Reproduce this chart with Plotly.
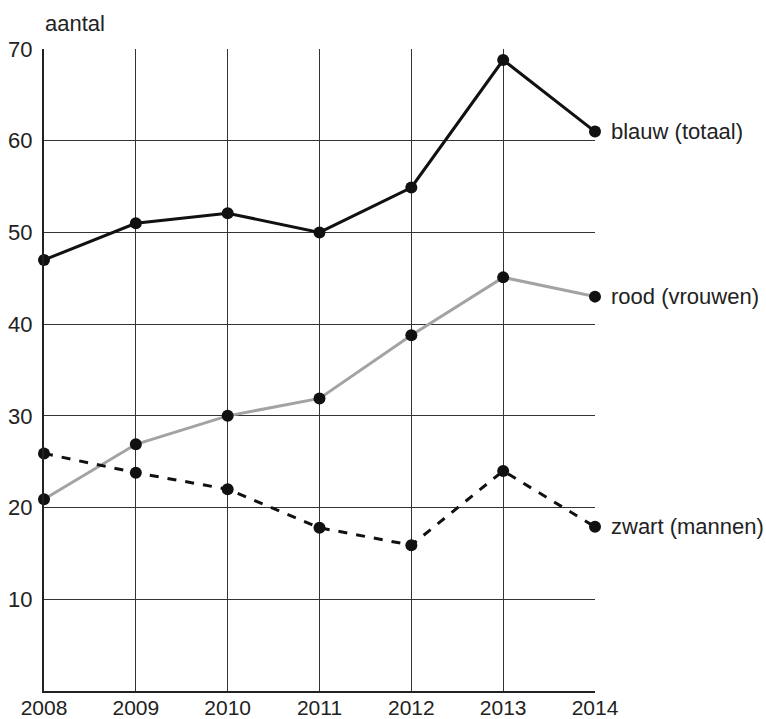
import plotly.graph_objects as go

years = [2008, 2009, 2010, 2011, 2012, 2013, 2014]
blauw_totaal = [47, 51, 52.1, 50, 54.9, 68.8, 61]
rood_vrouwen = [20.9, 26.9, 30, 31.9, 38.8, 45.1, 43]
zwart_mannen = [25.9, 23.8, 22, 17.8, 15.9, 24, 17.9]
labels = ["blauw (totaal)", "rood (vrouwen)", "zwart (mannen)"]
y_ticks = [10, 20, 30, 40, 50, 60, 70]

FONT = "Liberation Sans, Arial, Helvetica, sans-serif"
TXT = "#222222"

fig = go.Figure()

series = [
    (blauw_totaal, dict(color="#111111", width=3, dash="solid")),
    (rood_vrouwen, dict(color="#a3a3a3", width=3, dash="solid")),
    (zwart_mannen, dict(color="#111111", width=3, dash="dash")),
]

for vals, line in series:
    fig.add_trace(go.Scatter(
        x=years, y=vals, mode="lines+markers",
        line=line,
        marker=dict(size=12, color="#111111"),
        cliponaxis=False, showlegend=False, hoverinfo="skip",
    ))

for vals, lab in zip([blauw_totaal, rood_vrouwen, zwart_mannen], labels):
    fig.add_annotation(
        x=years[-1], y=vals[-1], xref="x", yref="y",
        text=lab, showarrow=False, xanchor="left", yanchor="middle",
        xshift=14, font=dict(family=FONT, size=22, color=TXT),
    )

fig.add_annotation(
    x=0, y=1, xref="paper", yref="paper", text="aantal",
    showarrow=False, xanchor="left", yanchor="bottom",
    xshift=-1, yshift=11, font=dict(family=FONT, size=22, color=TXT),
)

fig.update_xaxes(
    range=[2008, 2014], tickmode="array", tickvals=years,
    ticktext=[str(y) for y in years],
    showgrid=True, gridcolor="#333333", gridwidth=1,
    showline=True, linecolor="#222222", linewidth=2,
    zeroline=False, ticks="", ticklabelstandoff=-3, automargin=False,
    tickfont=dict(family=FONT, size=21, color=TXT),
)
fig.update_yaxes(
    range=[0, 70], tickmode="array", tickvals=y_ticks,
    ticktext=[str(v) for v in y_ticks],
    showgrid=True, gridcolor="#333333", gridwidth=1,
    showline=True, linecolor="#222222", linewidth=2,
    zeroline=False, ticks="", ticklabelstandoff=5, automargin=False,
    tickfont=dict(family=FONT, size=22, color=TXT),
)

fig.update_layout(
    width=766, height=719,
    margin=dict(l=44, r=171, t=49, b=28),
    paper_bgcolor="white", plot_bgcolor="white",
    font=dict(family=FONT, color=TXT),
)

fig.write_html(
    "out.html",
    config={"displayModeBar": False},
    post_script="document.body.style.margin='0px';document.body.style.overflow='hidden';",
)
